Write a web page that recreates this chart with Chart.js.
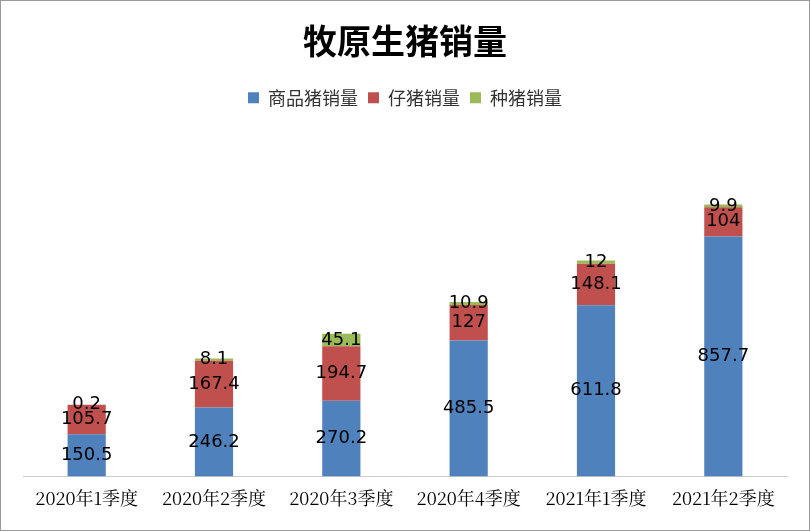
<!DOCTYPE html><html><head><meta charset="utf-8">
<script src="https://cdn.jsdelivr.net/npm/chart.js@4"></script>
<style>body{margin:0;background:#fff}#w{width:808px;height:529px;border:1px solid #999;}</style></head><body>
<div id="w"><canvas id="c" width="808" height="529"></canvas></div>
<script>
const categories=["2020年1季度","2020年2季度","2020年3季度","2020年4季度","2021年1季度","2021年2季度"];
const commercial=[150.5,246.2,270.2,485.5,611.8,857.7];
const piglet=[105.7,167.4,194.7,127,148.1,104];
const breeding=[0.2,8.1,45.1,10.9,12,9.9];
const labelPlugin={id:'lbl',afterDatasetsDraw(ch){const ctx=ch.ctx;ctx.save();ctx.fillStyle='#000';ctx.font='18px "DejaVu Sans","Noto Sans",sans-serif';ctx.textAlign='center';ctx.textBaseline='middle';
ch.data.datasets.forEach((ds,i)=>{ch.getDatasetMeta(i).data.forEach((b,j)=>{const y=(b.y+b.base)/2;ctx.fillText(String(ds.data[j]),b.x,y);});});ctx.restore();}};
new Chart(document.getElementById('c'),{type:'bar',data:{labels:categories,datasets:[
{label:'商品猪销量',data:commercial,backgroundColor:'#4F81BD'},
{label:'仔猪销量',data:piglet,backgroundColor:'#C0504D'},
{label:'种猪销量',data:breeding,backgroundColor:'#9BBB59'}]},
options:{responsive:false,animation:false,layout:{padding:{left:22,right:22,top:0,bottom:18}},
plugins:{title:{display:true,text:'牧原生猪销量',font:{size:34,family:'"Noto Sans CJK SC"',weight:'bold'},color:'#000',padding:{top:20,bottom:17}},
legend:{labels:{boxWidth:11,boxHeight:11,font:{size:18,family:'"Noto Sans CJK SC"'},color:'#333'}},tooltip:{enabled:false}},
datasets:{bar:{categoryPercentage:0.6,barPercentage:0.5}},
scales:{x:{stacked:true,grid:{display:false},border:{color:'#ccc'},ticks:{color:'#000',font:{size:18,family:'"Noto Serif CJK SC","Noto Sans CJK SC",serif'}}},
y:{stacked:true,display:false,min:0,max:1285}}},plugins:[labelPlugin]});
</script></body></html>
